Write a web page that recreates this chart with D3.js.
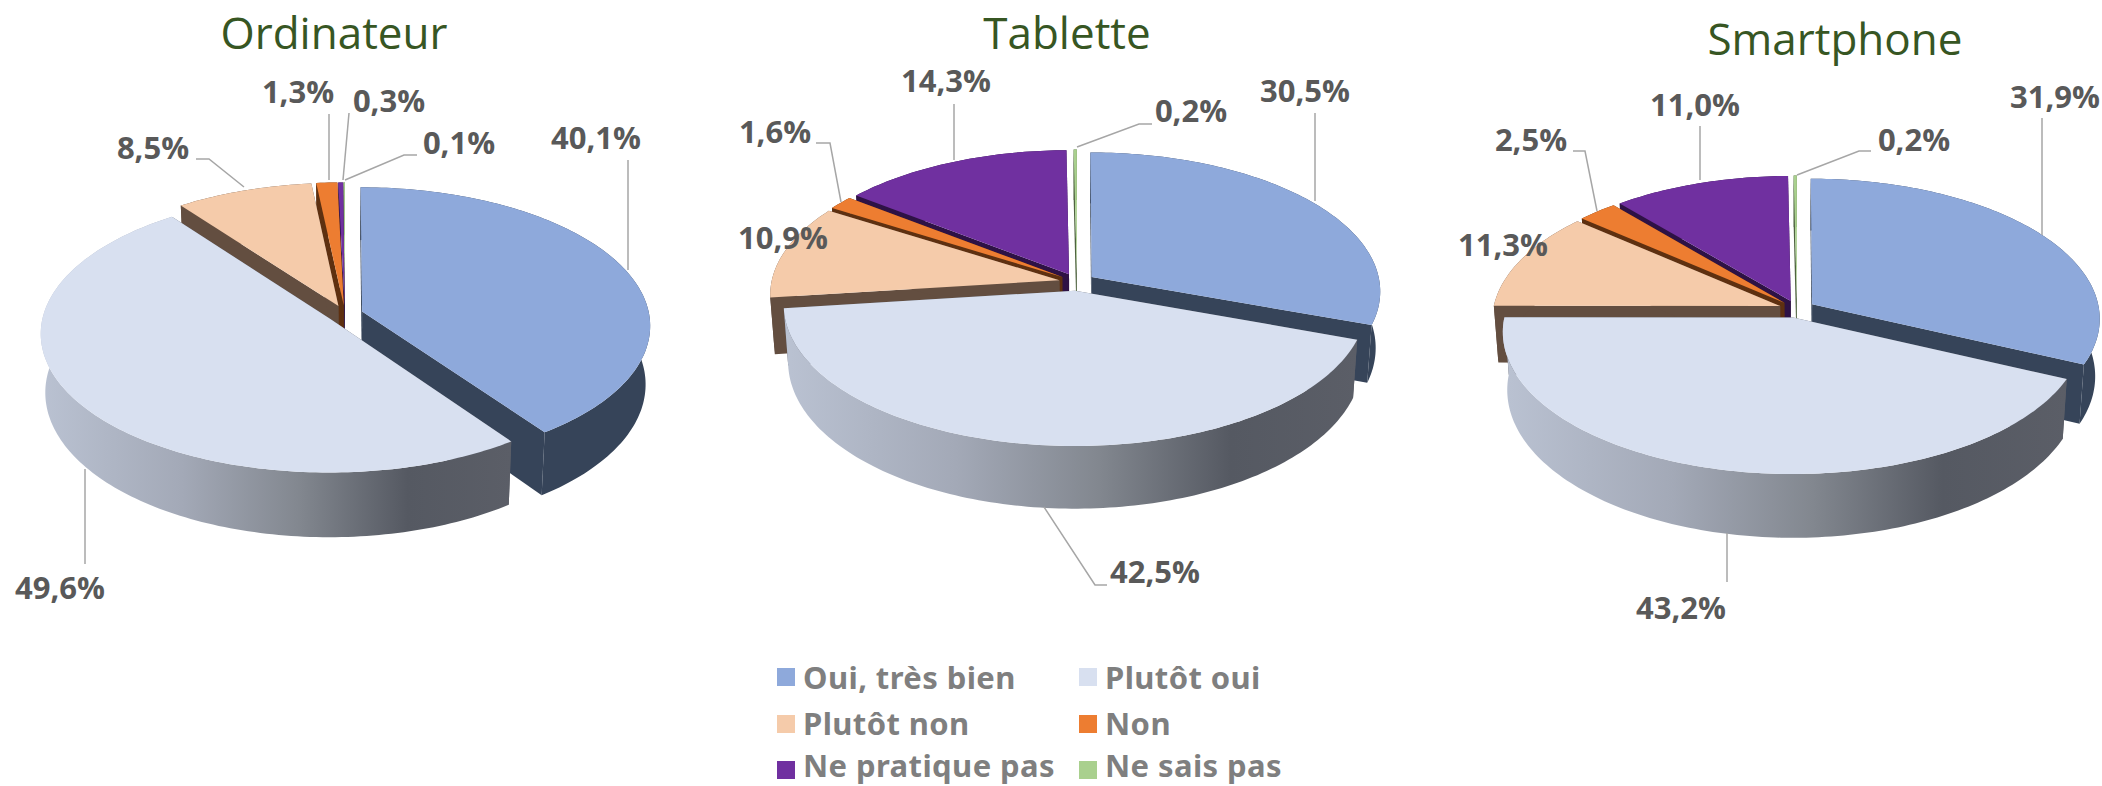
<!DOCTYPE html>
<html>
<head>
<meta charset="utf-8">
<script src="https://cdn.jsdelivr.net/npm/d3@7"></script>
<style>
  html, body { margin: 0; background: #fff; }
  svg { display: block; }
</style>
</head>
<body>
<svg id="chart" width="2102" height="786"></svg>
<script>
const categories = ["Oui, très bien", "Plutôt oui", "Plutôt non", "Non", "Ne pratique pas", "Ne sais pas"];
const titles = ["Ordinateur", "Tablette", "Smartphone"];
const ordinateur = [40.1, 49.6, 8.5, 1.3, 0.3, 0.1];
const tablette = [30.5, 42.5, 10.9, 1.6, 14.3, 0.2];
const smartphone = [31.9, 43.2, 11.3, 2.5, 11.0, 0.2];
const seriesValues = [ordinateur, tablette, smartphone];

const topColors = ["#8ea9db", "#d8e0f0", "#f5cbaa", "#ed7d31", "#7030a0", "#a9d08e"];
const wallColors = ["#364459", "#5a5d66", "#634e40", "#5e3010", "#2e1245", "#4f6340"];

// pie geometry per chart
const frames = [
  {cx: 345, cy: 314, rx: 287, ry: 137, depth: 58, titleX: 334, titleY: 32},
  {cx: 1077, cy: 282, rx: 288, ry: 138, depth: 56, titleX: 1067, titleY: 32},
  {cx: 1797, cy: 309, rx: 287, ry: 139, depth: 57, titleX: 1835, titleY: 38}
];
const explode = 18;
const persp = 0.1;

// label centres, same order as the series
const labelSpots = [
  [[596, 137], [60, 587], [153, 147], [298, 91], [389, 100], [459, 142]],
  [[1305, 90], [1155, 571], [783, 237], [775, 131], [946, 80], [1191, 110]],
  [[2055, 96], [1681, 607], [1503, 244], [1531, 139], [1695, 104], [1914, 139]]
];
// leader lines
const leaders = [
  [[[628, 160], [628, 270]], [[85, 564], [85, 469]], [[196, 159], [209, 159], [244, 187]],
   [[329, 114], [329, 180]], [[349, 113], [343, 180]], [[417, 155], [404, 155], [345, 180]]],
  [[[1315, 113], [1315, 201]], [[1107, 585], [1095, 585], [1044, 507]], null,
   [[816, 143], [830, 143], [841, 202]], [[954, 104], [954, 160]], [[1152, 124], [1139, 124], [1077, 147]]],
  [[[2042, 118], [2042, 235]], [[1727, 582], [1727, 533]], null,
   [[1573, 151], [1585, 151], [1597, 211]], [[1700, 126], [1700, 180]], [[1871, 151], [1859, 151], [1797, 175]]]
];

const svg = d3.select("#chart");
const defs = svg.append("defs");
const line = d3.line();
const fmt = v => v.toFixed(1).replace(".", ",") + "%";

const grad = defs.append("linearGradient").attr("id", "wallGrad");
[[0, "#bac2d2"], [0.3, "#a3a9b7"], [0.55, "#82878f"], [0.78, "#555962"], [1, "#5b5e67"]].forEach(s => {
  grad.append("stop").attr("offset", s[0]).attr("stop-color", s[1]);
});

seriesValues.forEach((vals, c) => {
  const f = frames[c];
  const pie = d3.pie().sort(null).value(d => d)(vals);
  const g = svg.append("g");

  // u,v are in the pie plane, lower = bottom face
  const project = (u, v, lower) => {
    const k = 1 / (1 - persp * v);
    const shrink = lower ? 0.985 : 1;
    return [f.cx + f.rx * u * k * shrink, f.cy + f.ry * v * k + (lower ? f.depth * k : 0)];
  };

  const sliceParts = (d) => {
    const mid = (d.startAngle + d.endAngle) / 2;
    const ox = explode / f.rx * Math.sin(mid), oy = -explode / f.rx * Math.cos(mid);
    const n = Math.max(2, Math.ceil((d.endAngle - d.startAngle) / 0.02));
    const angles = d3.range(n + 1).map(i => d.startAngle + (d.endAngle - d.startAngle) * i / n);
    const rim = lower => angles.map(a => project(ox + Math.sin(a), oy - Math.cos(a), lower));
    const apex = lower => project(ox, oy, lower);
    return {rim, apex};
  };

  [5, 4, 3, 2, 0, 1].forEach(i => {
    const d = pie[i];
    const p = sliceParts(d);
    const top = p.rim(false), bottom = p.rim(true);
    const a0 = p.apex(false), a1 = p.apex(true);
    const wall = i === 1 ? "url(#wallGrad)" : wallColors[i];
    const slice = g.append("g");
    // radial walls
    slice.append("path").attr("fill", wallColors[i])
      .attr("d", line([a0, top[0], bottom[0], a1]) + "Z");
    slice.append("path").attr("fill", wallColors[i])
      .attr("d", line([a0, top[top.length - 1], bottom[bottom.length - 1], a1]) + "Z");
    // outer wall
    slice.append("path").attr("fill", wall)
      .attr("d", line(top.concat(bottom.slice().reverse())) + "Z");
    // top face
    slice.append("path").attr("fill", topColors[i])
      .attr("d", line([a0].concat(top)) + "Z");
  });

  leaders[c].forEach(pts => {
    if (!pts) return;
    g.append("path").attr("d", line(pts)).attr("fill", "none")
      .attr("stroke", "#a6a6a6").attr("stroke-width", 1.5);
  });

  vals.forEach((v, i) => {
    g.append("text")
      .attr("x", labelSpots[c][i][0]).attr("y", labelSpots[c][i][1])
      .attr("text-anchor", "middle").attr("dominant-baseline", "central")
      .attr("font-family", "'Open Sans', sans-serif").attr("font-weight", 700)
      .attr("font-size", 31).attr("fill", "#595959")
      .text(fmt(v));
  });

  g.append("text")
    .attr("x", f.titleX).attr("y", f.titleY)
    .attr("text-anchor", "middle").attr("dominant-baseline", "central")
    .attr("font-family", "'Open Sans', sans-serif")
    .attr("font-size", 44).attr("fill", "#375623")
    .text(titles[c]);
});

// legend
const legend = svg.append("g");
const legendCols = [777, 1079];
const legendRows = [668, 715, 761];
const legendBase = [689, 735, 777];
categories.forEach((name, i) => {
  const x = legendCols[i % 2], row = Math.floor(i / 2);
  legend.append("rect").attr("x", x).attr("y", legendRows[row]).attr("width", 18).attr("height", 18)
    .attr("fill", topColors[i]);
  legend.append("text").attr("x", x + 26).attr("y", legendBase[row])
    .attr("font-family", "'Noto Sans', sans-serif").attr("font-weight", 700)
    .attr("font-size", 31).attr("letter-spacing", 0.4).attr("fill", "#7f7f7f")
    .text(name);
});
</script>
</body>
</html>
